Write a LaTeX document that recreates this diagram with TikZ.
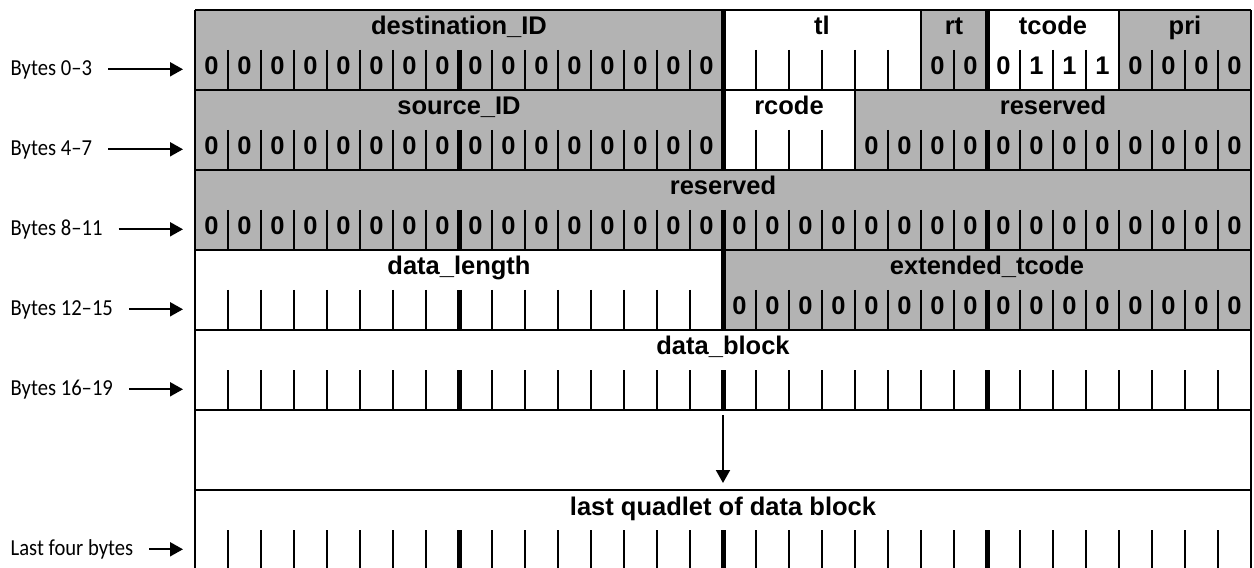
\documentclass[tikz,border=0pt]{standalone}
\usepackage{fontspec}
\setmainfont{Liberation Sans}
\newfontfamily\labfont[FakeStretch=0.9]{Carlito}
\usetikzlibrary{arrows.meta}
\definecolor{fieldgray}{RGB}{179,179,179}
\newcommand\regfont{\fontsize{25.6}{28}\selectfont\bfseries}
\tikzset{
  rowline/.style={line width=2.5bp},
  thinline/.style={line width=1.8bp},
  thickline/.style={line width=5bp},
  fieldlabel/.style={font=\regfont, anchor=base, inner sep=0pt},
  bitval/.style={font=\regfont, anchor=base, inner sep=0pt},
  sidelabel/.style={font=\labfont\fontsize{23}{26}\selectfont, anchor=base west, inner sep=0pt},
  ptr/.style={line width=2bp, -{Triangle[length=13bp,width=14bp]}},
}
\begin{document}
\begin{tikzpicture}[x=1bp,y=-1bp]
\useasboundingbox (0,0) rectangle (1254,568);
% ---- fills
\fill[fieldgray] (195,10) rectangle ({195+16*33},90);
\fill[fieldgray] ({195+22*33},10) rectangle ({195+24*33},90);
\fill[fieldgray] ({195+28*33},10) rectangle ({195+32*33},90);
\fill[fieldgray] (195,90) rectangle ({195+16*33},170);
\fill[fieldgray] ({195+20*33},90) rectangle ({195+32*33},170);
\fill[fieldgray] (195,170) rectangle ({195+32*33},250);
\fill[fieldgray] ({195+16*33},250) rectangle ({195+32*33},330);
% ---- bit-area dividers
\foreach \t in {10,90,170,250,330,490} {
  \foreach \i in {1,...,31} {
    \pgfmathtruncatemacro\m{mod(\i,8)}
    \ifnum\m=0 \def\sty{thickline}\else \def\sty{thinline}\fi
    \draw[\sty] ({195+\i*33},{\t+40}) -- ({195+\i*33},{\t+80});
  }
}
% ---- full-height field boundaries
\draw[thickline] ({195+16*33},10) -- ({195+16*33},90);
\draw[thinline]  ({195+22*33},10) -- ({195+22*33},90);
\draw[thickline] ({195+24*33},10) -- ({195+24*33},90);
\draw[thinline]  ({195+28*33},10) -- ({195+28*33},90);
\draw[thickline] ({195+16*33},90) -- ({195+16*33},170);
\draw[thinline]  ({195+20*33},90) -- ({195+20*33},170);
\draw[thickline] ({195+16*33},250) -- ({195+16*33},330);
% ---- row lines and border
\foreach \t in {10,90,170,250,330,410,490}
  \draw[rowline] (195,\t) -- (1251,\t);
\draw[rowline] (195,10) -- (195,570);
\draw[rowline] (1251,10) -- (1251,570);
% ---- field labels
\node[fieldlabel] (destid) at ({195+8*33},35) {destination\_ID};
\node[fieldlabel] (tl) at ({195+19*33},35) {tl};
\node[fieldlabel] (rt) at ({195+23*33},35) {rt};
\node[fieldlabel] (tcode) at ({195+26*33},35) {tcode};
\node[fieldlabel] (pri) at ({195+30*33},35) {pri};
\node[fieldlabel] (srcid) at ({195+8*33},115) {source\_ID};
\node[fieldlabel] (rcode) at ({195+18*33},115) {rcode};
\node[fieldlabel] (resa) at ({195+26*33},115) {reserved};
\node[fieldlabel] (resb) at ({195+16*33},195) {reserved};
\node[fieldlabel] (dlen) at ({195+8*33},275) {data\_length};
\node[fieldlabel] (etcode) at ({195+24*33},275) {extended\_tcode};
\node[fieldlabel] (dblock) at ({195+16*33},355) {data\_block};
\node[fieldlabel] (lastq) at ({195+16*33},515) {last quadlet of data block};
% ---- bit values
\foreach \i in {0,...,15,22,23,28,29,30,31}
  \node[bitval] (ra\i) at ({195+(\i+0.5)*33},75) {0};
\foreach \i/\v in {24/0,25/1,26/1,27/1}
  \node[bitval] (ra\i) at ({195+(\i+0.5)*33},75) {\v};
\foreach \i in {0,...,15,20,21,...,31}
  \node[bitval] (rb\i) at ({195+(\i+0.5)*33},155) {0};
\foreach \i in {0,...,31}
  \node[bitval] (rc\i) at ({195+(\i+0.5)*33},235) {0};
\foreach \i in {16,...,31}
  \node[bitval] (rd\i) at ({195+(\i+0.5)*33},315) {0};
% ---- continuation arrow
\coordinate (contA) at ({195+16*33},415);
\coordinate (contB) at ({195+16*33},483);
\draw[ptr] (contA) -- (contB);
% ---- side labels
\foreach \n/\t/\txt in {1/10/Bytes 0–3, 2/90/Bytes 4–7, 3/170/Bytes 8–11, 4/250/Bytes 12–15, 5/330/Bytes 16–19, 7/490/Last four bytes} {
  \node[sidelabel] (lab\n) at (10.5,{\t+65.7}) {\txt};
  \coordinate (tip\n) at (183,{\t+59.3});
  \path (lab\n.east) ++(16,0) coordinate (st\n);
  \draw[ptr] (st\n |- tip\n) -- (tip\n);
}
\end{tikzpicture}
\end{document}
